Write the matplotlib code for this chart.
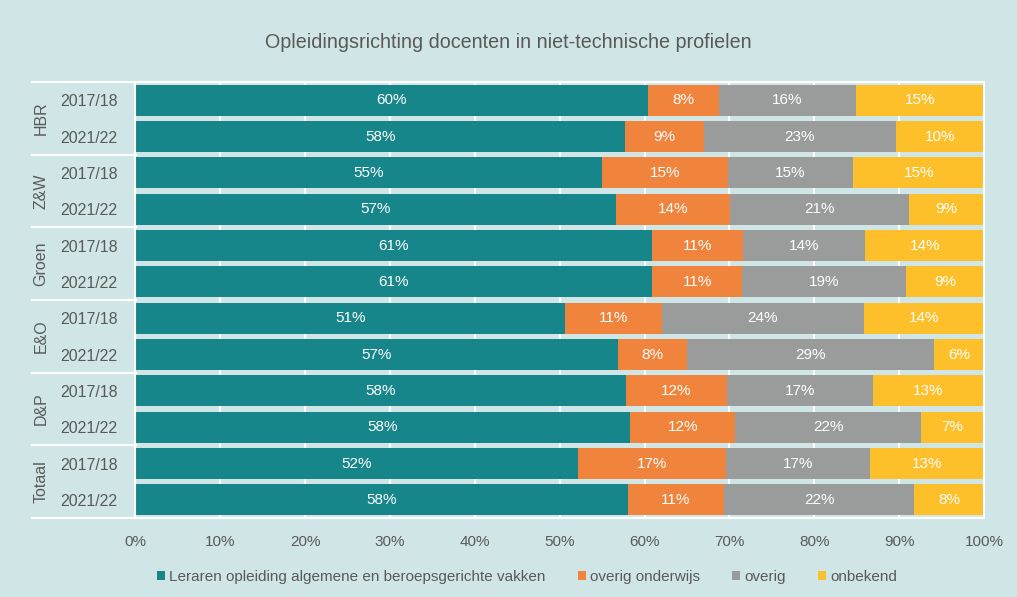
import matplotlib.pyplot as plt
from matplotlib.transforms import blended_transform_factory

plt.rcParams['font.family'] = ['Liberation Sans', 'DejaVu Sans']

groups = ["HBR", "Z&W", "Groen", "E&O", "D&P", "Totaal"]
years = ["2017/18", "2021/22"]

# shares per row (top to bottom), in percent
leraren = [60.4, 57.7, 55.0, 56.6, 60.9, 60.9, 50.6, 56.9, 57.8, 58.3, 52.2, 58.0]
overig_onderwijs = [8.4, 9.3, 14.8, 13.5, 10.7, 10.6, 11.4, 8.1, 11.9, 12.4, 17.4, 11.4]
overig = [16.1, 22.6, 14.8, 21.0, 14.4, 19.3, 23.8, 29.1, 17.2, 21.9, 17.0, 22.4]
onbekend = [15.1, 10.4, 15.4, 8.9, 14.0, 9.2, 14.2, 5.9, 13.1, 7.4, 13.4, 8.2]

series = [
    ("Leraren opleiding algemene en beroepsgerichte vakken", leraren, "#17868a"),
    ("overig onderwijs", overig_onderwijs, "#f0843c"),
    ("overig", overig, "#9a9c9c"),
    ("onbekend", onbekend, "#fdc02a"),
]

bg = "#d0e6e6"
txt = "#595959"

fig = plt.figure(figsize=(10.17, 5.97), dpi=100, facecolor=bg)
ax = fig.add_axes([0.1332, 0.1323, 0.8344, 0.7303], facecolor=bg)

rows = list(range(len(leraren)))
left = [0.0] * len(rows)
handles = []
for name, vals, col in series:
    bars = ax.barh(rows, vals, left=left, height=0.85, color=col, label=name, zorder=2)
    handles.append(bars)
    for r, v, l in zip(rows, vals, left):
        ax.text(l + v / 2, r, f"{round(v)}%", ha="center", va="center",
                color="white", fontsize=11, zorder=3)
    left = [a + b for a, b in zip(left, vals)]

ax.set_xlim(0, 100)
ax.set_ylim(len(rows) - 0.5, -0.5)
ax.set_xticks(range(0, 101, 10))
ax.set_xticklabels([f"{t}%" for t in range(0, 101, 10)])
ax.xaxis.grid(True, color="white", linewidth=1.5, zorder=0)
ax.set_axisbelow(True)
ax.tick_params(axis="x", length=0, pad=12, labelsize=11, labelcolor=txt)

ax.set_yticks(rows)
ax.set_yticklabels(years * len(groups))
ax.tick_params(axis="y", length=0, pad=13, labelsize=11.4, labelcolor=txt)

for s in ["left", "top", "bottom", "right"]:
    ax.spines[s].set_color("white")
    ax.spines[s].set_linewidth(1.5)

# group separators and group labels
tr = blended_transform_factory(fig.transFigure, ax.transData)
x0 = 32 / 1017
x1 = 135.5 / 1017
for i, g in enumerate(groups):
    y_top = 2 * i - 0.5
    ax.plot([x0, x1], [y_top, y_top], color="white", lw=1.5, transform=tr, clip_on=False)
    fig.text(41 / 1017, 2 * i + 0.5, g, rotation=90, ha="center", va="center",
             fontsize=11.5, color=txt, transform=tr)
ax.plot([x0, x1], [len(rows) - 0.5] * 2, color="white", lw=1.5, transform=tr, clip_on=False)

fig.text(0.5, 1 - 42 / 597, "Opleidingsrichting docenten in niet-technische profielen",
         ha="center", va="center", fontsize=14.2, color=txt)

fig.legend(handles=handles, loc="center", bbox_to_anchor=(527 / 1017, 1 - 577 / 597), ncol=4,
           frameon=False, fontsize=11, labelcolor=txt, handlelength=0.55, handleheight=0.55,
           handletextpad=0.25, columnspacing=2.1)

fig.savefig("out.png", dpi=100, facecolor=bg)
